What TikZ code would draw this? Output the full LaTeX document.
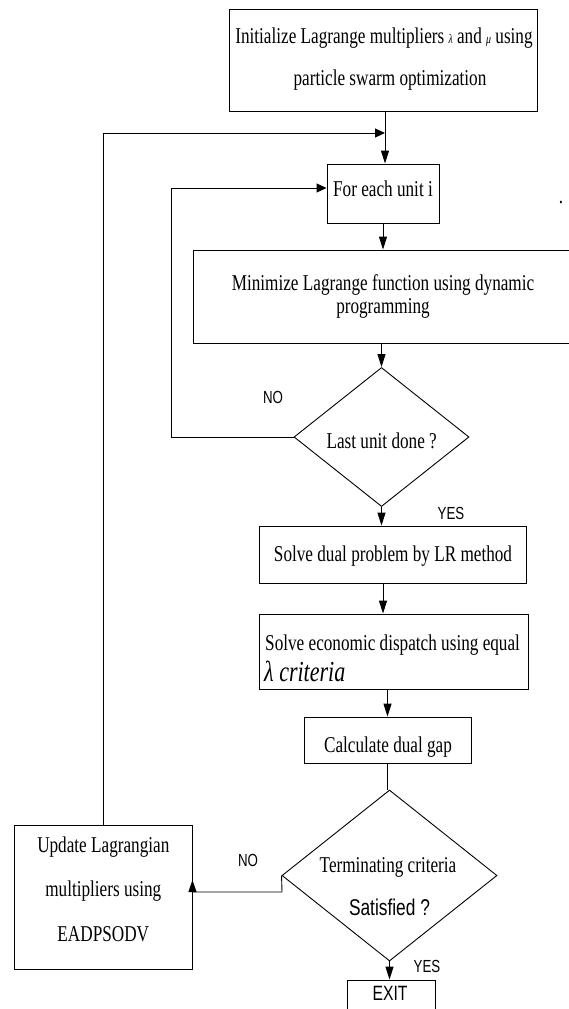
\documentclass[tikz,border=0pt]{standalone}
\usepackage{fontspec}
\setmainfont{Liberation Serif}[FakeStretch=0.76]
\setsansfont{Liberation Sans}[FakeStretch=0.76]
\usetikzlibrary{shapes.geometric,arrows.meta}
\begin{document}
\begin{tikzpicture}[x=1pt,y=-1pt,
  box/.style={draw, line width=0.9pt, rectangle, inner sep=0pt},
  dia/.style={draw, line width=0.9pt, diamond, inner sep=0pt},
  txt/.style={anchor=base, inner sep=0pt, font=\fontsize{22.6}{24}\selectfont},
  lbl/.style={anchor=base, inner sep=0pt, font=\sffamily\fontsize{17.5}{18}\selectfont},
  conn/.style={line width=0.9pt},
  arr/.style={conn, -{Triangle[length=13pt,width=8pt]}},
  harr/.style={conn, -{Triangle[length=10pt,width=9pt]}},
]
\useasboundingbox (0,0) rectangle (568,1009);

% boxes
\node[box, minimum width=308pt, minimum height=102pt] (init) at (383,60) {};
\node[box, minimum width=112pt, minimum height=59pt] (foreach) at (383,193.5) {};
\node[box, minimum width=377pt, minimum height=93pt] (minimize) at (381.5,296.5) {};
\node[dia, minimum width=175pt, minimum height=139pt] (d1) at (381.5,437) {};
\node[box, minimum width=267pt, minimum height=57pt] (dual) at (392.5,554.5) {};
\node[box, minimum width=269pt, minimum height=75pt] (econ) at (393.5,651.5) {};
\node[box, minimum width=167pt, minimum height=46pt] (calc) at (387.5,740) {};
\node[dia, minimum width=215pt, minimum height=171pt] (d2) at (389.5,875.5) {};
\node[box, minimum width=177.5pt, minimum height=144pt] (update) at (103.25,897) {};
\node[box, minimum width=88pt, minimum height=40pt] (exit) at (391,1000) {};

% texts
\node[txt] (t1a) at (384,43) {Initialize Lagrange multipliers {\fontsize{13}{13}\selectfont\itshape λ} and {\fontsize{13}{13}\selectfont\itshape μ} using};
\node[txt] (t1b) at (390,85) {particle swarm optimization};
\node[txt] (t2) at (383,196.7) {For each unit i};
\node[txt] (t3a) at (383,290) {Minimize Lagrange function using dynamic};
\node[txt] (t3b) at (383,313) {programming};
\node[txt] (t4) at (381.7,448) {Last unit done ?};
\node[txt] (t5) at (393,561.7) {Solve dual problem by LR method};
\node[txt, anchor=base west] (t6a) at (265,650) {Solve economic dispatch using equal};
\node[txt, anchor=base west, font=\fontsize{29}{30}\selectfont\itshape] (t6b) at (264,681.7) {λ criteria};
\node[txt] (t7) at (388,752.5) {Calculate dual gap};
\node[txt] (t8a) at (388,872) {Terminating criteria};
\node[txt, font=\sffamily\fontsize{22.8}{24}\selectfont] (t8b) at (389.5,915) {Satisfied ?};
\node[txt] (t9a) at (103.3,852) {Update Lagrangian};
\node[txt] (t9b) at (103.3,896) {multipliers using};
\node[txt] (t9c) at (103.3,941) {EADPSODV};
\node[lbl, font=\sffamily\fontsize{20.7}{22}\selectfont] (t10) at (390,1000) {EXIT};
\node[txt] (dot) at (561,203) {.};

% labels
\node[lbl] (no1) at (273,403) {NO};
\node[lbl] (yes1) at (451,519) {YES};
\node[lbl] (no2) at (248,866) {NO};
\node[lbl] (yes2) at (427,972) {YES};

% helper coordinates
\coordinate (j1) at (385,133);
\coordinate (j2) at (171,188);
\coordinate (j3) at (282,892);
\coordinate (c3) at (383,0);

% connectors
\draw[arr] (init.south -| j1) -- (foreach.north -| j1);
\draw[harr] (update.north) -- (update.north |- j1) -- (j1);
\draw[harr] (d1.west) -- (d1.west -| j2) -- (j2) -- (j2 -| foreach.west);
\draw[arr] (foreach.south) -- (foreach.south |- minimize.north);
\draw[arr] (minimize.south -| d1.north) -- (d1.north);
\draw[arr] (d1.south) -- (d1.south |- dual.north);
\draw[arr] (dual.south -| c3) -- (econ.north -| c3);
\draw[arr] (econ.south -| calc.north) -- (calc.north);
\draw[conn] (calc.south) -- (calc.south |- d2.north);
\draw[conn, -{Triangle[length=12pt,width=8pt]}] (d2.west) -- (j3) -- (update.east |- j3) -- ++(0,-12);
\draw[arr] (d2.south) -- (d2.south |- exit.north);
\end{tikzpicture}
\end{document}
